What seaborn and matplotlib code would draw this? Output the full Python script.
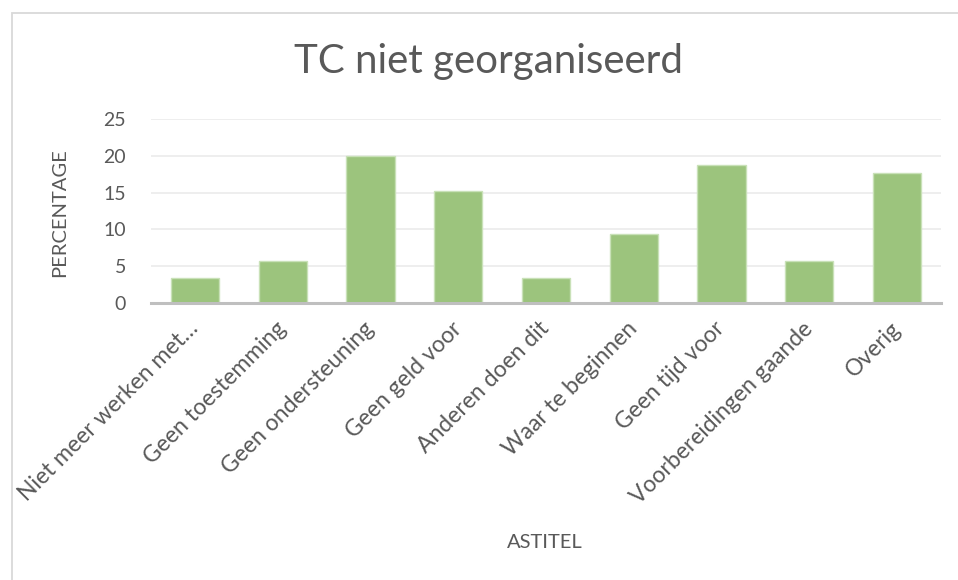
import matplotlib
matplotlib.use("Agg")
import matplotlib.pyplot as plt
import seaborn as sns
import pandas as pd
from matplotlib.patches import Rectangle

categories = [
    "Niet meer werken met…",
    "Geen toestemming",
    "Geen ondersteuning",
    "Geen geld voor",
    "Anderen doen dit",
    "Waar te beginnen",
    "Geen tijd voor",
    "Voorbereidingen gaande",
    "Overig",
]
values = [3.4, 5.7, 20.0, 15.2, 3.4, 9.4, 18.8, 5.7, 17.6]
yticks = [0, 5, 10, 15, 20, 25]

title = "TC niet georganiseerd"
xlabel = "ASTITEL"
ylabel = "PERCENTAGE"

sns.set_theme(style="white")
plt.rcParams["font.family"] = ["Lato", "DejaVu Sans"]

TXT = "#595959"
BAR = "#9CC47D"
EDGE = "#C9E1B8"
GRID = "#EDEDED"
AXIS = "#BFBFBF"

W, H = 958, 580
fig = plt.figure(figsize=(W / 100, H / 100), dpi=100)
fig.patch.set_facecolor("white")

ax = fig.add_axes([151 / W, 1 - 303 / H, (941 - 151) / W, (303 - 119) / H])

df = pd.DataFrame({"cat": categories, "val": values})
sns.barplot(data=df, x="cat", y="val", ax=ax, color=BAR, saturation=1,
            width=0.55, edgecolor=EDGE, linewidth=1.0, errorbar=None)

ax.set_xlim(-0.5, len(categories) - 0.5)
ax.set_ylim(0, 25)
ax.set_yticks(yticks)
ax.set_yticklabels([str(t) for t in yticks], color=TXT, fontsize=14)
ax.tick_params(axis="y", length=0, pad=18)
ax.yaxis.grid(True, color=GRID, linewidth=1.3)
ax.set_axisbelow(True)

for s in ["top", "right", "left"]:
    ax.spines[s].set_visible(False)
ax.spines["bottom"].set_color(AXIS)
ax.spines["bottom"].set_linewidth(2.2)
ax.spines["bottom"].set_zorder(5)

ax.set_xticks(range(len(categories)))
ax.set_xticklabels(categories, rotation=45, ha="right", va="center",
                   rotation_mode="anchor", color=TXT, fontsize=16.5)
ax.tick_params(axis="x", length=0, pad=16)
ax.set_xlabel("")
ax.set_ylabel("")

fig.text(489 / W, 1 - 62 / H, title, ha="center", va="center",
         fontsize=29, color=TXT)
fig.text(545 / W, 1 - 543 / H, xlabel, ha="center", va="center",
         fontsize=14.5, color=TXT)
fig.text(60 / W, 1 - 213 / H, ylabel, ha="center", va="center",
         rotation=90, fontsize=14.5, color=TXT)

fig.add_artist(Rectangle((12 / W, -0.2), 2, 1.2 - 13 / H, transform=fig.transFigure,
                         fill=False, edgecolor="#D9D9D9", linewidth=1.3))

fig.savefig("out.png", dpi=100, facecolor="white")
